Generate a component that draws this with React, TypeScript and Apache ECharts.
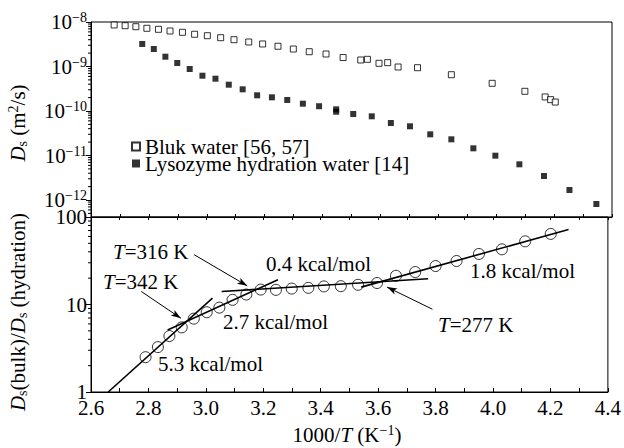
import React, { useEffect, useRef } from "react";
import * as echarts from "echarts";

// ---------- data ----------
const bulkX = [2.680, 2.718, 2.755, 2.793, 2.833, 2.873, 2.916, 2.958, 3.002, 3.048, 3.094, 3.145, 3.193, 3.246, 3.299, 3.354, 3.412, 3.471, 3.532, 3.555, 3.595, 3.625, 3.661, 3.728, 3.845, 3.986, 4.099, 4.169, 4.188, 4.204];
const bulkD = [8.57e-9, 8.26e-9, 7.84e-9, 7.22e-9, 6.85e-9, 6.28e-9, 5.87e-9, 5.30e-9, 4.92e-9, 4.44e-9, 4.00e-9, 3.55e-9, 3.21e-9, 2.85e-9, 2.47e-9, 2.15e-9, 1.91e-9, 1.59e-9, 1.40e-9, 1.45e-9, 1.18e-9, 1.22e-9, 9.75e-10, 9.40e-10, 6.54e-10, 4.19e-10, 2.77e-10, 2.07e-10, 1.80e-10, 1.59e-10];

const hydX = [2.777, 2.817, 2.857, 2.898, 2.941, 2.985, 3.030, 3.076, 3.124, 3.174, 3.225, 3.278, 3.332, 3.388, 3.447, 3.447, 3.506, 3.570, 3.636, 3.702, 3.772, 3.845, 3.921, 3.997, 4.080, 4.165, 4.253, 4.346];
const hydD = [3.21e-9, 2.47e-9, 1.66e-9, 1.20e-9, 8.79e-10, 6.21e-10, 5.32e-10, 3.90e-10, 3.07e-10, 2.25e-10, 2.03e-10, 1.77e-10, 1.46e-10, 1.28e-10, 1.09e-10, 9.64e-11, 8.57e-11, 7.60e-11, 5.37e-11, 4.53e-11, 2.99e-11, 2.31e-11, 1.45e-11, 9.9e-12, 6.34e-12, 3.46e-12, 1.68e-12, 8.13e-13];

const ratioX = [2.790, 2.833, 2.873, 2.916, 2.958, 3.003, 3.047, 3.093, 3.141, 3.191, 3.244, 3.299, 3.357, 3.411, 3.470, 3.530, 3.596, 3.662, 3.729, 3.800, 3.873, 3.951, 4.031, 4.112, 4.201];
const ratioV = [2.50, 3.26, 4.36, 5.48, 6.89, 8.16, 9.21, 11.3, 13.0, 14.8, 14.7, 15.2, 15.5, 16.1, 16.2, 16.8, 17.6, 21.3, 23.5, 27.5, 31.4, 37.8, 42.7, 52.7, 64.1];

const fitA = [[2.66, 1.0], [3.023, 11.8]];
const fitB = [[2.867, 5.1], [3.251, 19.2]];
const fitC = [[3.055, 14.1], [3.774, 19.7]];
const fitD = [[3.541, 15.8], [4.263, 71.9]];

const arrow316 = [[2.959, 37.1], [3.144, 16.35]];
const arrow342 = [[2.775, 14.1], [2.913, 6.96]];
const arrow277 = [[3.789, 8.83], [3.631, 15.8]];

const X_MIN = 2.6;
const X_MAX = 4.4;
const X_STEP = 0.1;
const TOP_MIN = 4.15e-13;
const TOP_MAX = 1e-8;
const BOT_MIN = 1;
const BOT_MAX = 100;
const topDecades = [-13, -12, -11, -10, -9];
const botDecades = [0, 1];
const minorMult = [2, 3, 4, 5, 6, 7, 8, 9];

const legendNames = ["Bluk water [56, 57]", "Lysozyme hydration water [14]"];

const F = "Liberation Serif";
const FS = 21;
const FS_SMALL = 14;

function minors(decades: number[], lo: number, hi: number) {
  const out: number[][] = [];
  decades.forEach((e) =>
    minorMult.forEach((m) => {
      const v = m * Math.pow(10, e);
      if (v > lo && v < hi) out.push([X_MIN, v]);
    })
  );
  return out;
}

const tickRender = (len: number) => (params: any, api: any) => {
  const p = api.coord([api.value(0), api.value(1)]);
  return {
    type: "line",
    shape: { x1: p[0] - len, y1: p[1], x2: p[0], y2: p[1] },
    style: { stroke: "#000", lineWidth: 1 },
  };
};

export default function App() {
  const ref = useRef<HTMLDivElement>(null);
  useEffect(() => {
    if (!ref.current) return;
    const chart = echarts.init(ref.current, undefined, { renderer: "svg" });

    const baseText = { fontFamily: F, color: "#000", fontSize: FS };
    const richSup = {
      b: { ...baseText, lineHeight: 23 },
      s: { fontFamily: F, color: "#000", fontSize: FS_SMALL, verticalAlign: "top", lineHeight: 14 },
    };

    const xCommon = {
      type: "value",
      min: X_MIN,
      max: X_MAX,
      interval: X_STEP,
      splitLine: { show: false },
      axisLine: { show: true, onZero: false, lineStyle: { color: "#000", width: 1 } },
    };

    const yLog = (grid: number, min: number, max: number, fmt: (v: number) => string) => ({
      type: "log",
      logBase: 10,
      gridIndex: grid,
      min,
      max,
      position: "left",
      splitLine: { show: false },
      axisLine: { show: true, lineStyle: { color: "#000", width: 1 } },
      axisTick: { show: true, inside: false, length: 5, lineStyle: { color: "#000" } },
      axisLabel: {
        margin: 4,
        ...baseText,
        formatter: fmt,
        rich: richSup,
      },
    });

    const isPow = (v: number) => Math.abs(Math.log10(v) - Math.round(Math.log10(v))) < 1e-6;

    const option: any = {
      animation: false,
      backgroundColor: "#fff",
      textStyle: { fontFamily: F },
      grid: [
        { left: 91, top: 22, width: 521, height: 195, show: true, borderColor: "#000", borderWidth: 1, backgroundColor: "transparent" },
        { left: 91, top: 217, width: 521, height: 175, show: true, borderColor: "#000", borderWidth: 1, backgroundColor: "transparent" },
      ],
      xAxis: [
        { ...xCommon, gridIndex: 0, position: "bottom", axisTick: { inside: true, length: 3, lineStyle: { color: "#000" } }, axisLabel: { show: false } },
        { ...xCommon, gridIndex: 1, position: "top", axisTick: { inside: true, length: 3, lineStyle: { color: "#000" } }, axisLabel: { show: false } },
        {
          ...xCommon,
          gridIndex: 1,
          position: "bottom",
          axisTick: { inside: true, length: 4, lineStyle: { color: "#000" } },
          axisLabel: {
            ...baseText,
            margin: 5,
            formatter: (v: number) => (Math.round(v * 10) % 2 === 0 ? v.toFixed(1) : ""),
          },
        },
      ],
      yAxis: [
        yLog(0, TOP_MIN, TOP_MAX, (v: number) =>
          isPow(v) ? `{b|10}{s|\u2212${Math.abs(Math.round(Math.log10(v)))}}` : ""
        ),
        yLog(1, BOT_MIN, BOT_MAX, (v: number) => (isPow(v) ? `{b|${Math.round(v)}}` : "")),
      ],
      legend: {
        data: legendNames,
        orient: "vertical",
        left: 126,
        top: 131,
        itemWidth: 8,
        itemHeight: 8,
        itemGap: -4,
        icon: "rect",
        textStyle: { fontFamily: F, color: "#000", fontSize: FS },
        selectedMode: false,
      },
      series: [
        {
          name: legendNames[0],
          type: "scatter",
          xAxisIndex: 0,
          yAxisIndex: 0,
          symbol: "rect",
          symbolSize: 6,
          itemStyle: { color: "#fff", borderColor: "#000", borderWidth: 1 },
          data: bulkX.map((x, i) => [x, bulkD[i]]),
          z: 5,
        },
        {
          name: legendNames[1],
          type: "scatter",
          xAxisIndex: 0,
          yAxisIndex: 0,
          symbol: "rect",
          symbolSize: 6,
          itemStyle: { color: "#000" },
          data: hydX.map((x, i) => [x, hydD[i]]),
          z: 5,
        },
        {
          type: "custom",
          xAxisIndex: 0,
          yAxisIndex: 0,
          renderItem: tickRender(3),
          data: minors(topDecades, TOP_MIN, TOP_MAX),
          silent: true,
        },
        {
          type: "custom",
          xAxisIndex: 2,
          yAxisIndex: 1,
          renderItem: tickRender(3),
          data: minors(botDecades, BOT_MIN, BOT_MAX),
          silent: true,
        },
        ...[fitA, fitB, fitC, fitD].map((d, i) => ({
          type: "line",
          xAxisIndex: 2,
          yAxisIndex: 1,
          data: d,
          showSymbol: false,
          symbol: "none",
          lineStyle: { color: "#000", width: 1.6 },
          silent: true,
          z: 3,
          ...(i === 0
            ? {
                markLine: {
                  silent: true,
                  symbol: ["none", "arrow"],
                  symbolSize: [5, 10],
                  label: { show: false },
                  lineStyle: { color: "#000", width: 1, type: "solid" },
                  data: [arrow316, arrow342, arrow277].map((a) => [{ coord: a[0] }, { coord: a[1] }]),
                },
              }
            : {}),
        })),
        {
          type: "scatter",
          xAxisIndex: 2,
          yAxisIndex: 1,
          symbol: "circle",
          symbolSize: 11,
          itemStyle: { color: "rgba(0,0,0,0)", borderColor: "#000", borderWidth: 1 },
          data: ratioX.map((x, i) => [x, ratioV[i]]),
          z: 5,
        },
      ],
      graphic: [
        {
          type: "text",
          x: 18,
          y: 123,
          rotation: Math.PI / 2,
          style: {
            text: "{i|D}{sub|s} (m{sup|2}/s)",
            ...baseText,
            fill: "#000",
            align: "center",
            verticalAlign: "middle",
            rich: {
              i: { ...baseText, fontStyle: "italic", lineHeight: 23 },
              sub: { fontFamily: F, fontSize: FS_SMALL, verticalAlign: "bottom", lineHeight: 14 },
              sup: { fontFamily: F, fontSize: FS_SMALL, verticalAlign: "top", lineHeight: 14 },
            },
          },
        },
        {
          type: "text",
          x: 18,
          y: 312,
          rotation: Math.PI / 2,
          style: {
            text: "{i|D}{sub|s}(bulk)/{i|D}{sub|s} (hydration)",
            ...baseText,
            fill: "#000",
            align: "center",
            verticalAlign: "middle",
            rich: {
              i: { ...baseText, fontStyle: "italic", lineHeight: 23 },
              sub: { fontFamily: F, fontSize: FS_SMALL, verticalAlign: "bottom", lineHeight: 14 },
            },
          },
        },
        {
          type: "text",
          x: 347,
          y: 435,
          style: {
            text: "1000/{i|T} (K{sup|\u22121})",
            ...baseText,
            fill: "#000",
            align: "center",
            verticalAlign: "middle",
            rich: {
              i: { ...baseText, fontStyle: "italic", lineHeight: 23 },
              sup: { fontFamily: F, fontSize: FS_SMALL, verticalAlign: "top", lineHeight: 14 },
            },
          },
        },
        ...[
          { t: "{i|T}=316 K", x: 113, y: 252 },
          { t: "{i|T}=342 K", x: 103, y: 282 },
          { t: "0.4 kcal/mol", x: 266, y: 264 },
          { t: "2.7 kcal/mol", x: 223, y: 322 },
          { t: "5.3 kcal/mol", x: 158, y: 364 },
          { t: "1.8 kcal/mol", x: 470, y: 271 },
          { t: "{i|T}=277 K", x: 438, y: 325 },
        ].map((a) => ({
          type: "text",
          x: a.x,
          y: a.y,
          z: 10,
          style: {
            text: a.t,
            ...baseText,
            fill: "#000",
            align: "left",
            verticalAlign: "middle",
            rich: { i: { ...baseText, fontStyle: "italic" } },
          },
        })),
      ],
    };

    chart.setOption(option);
    return () => chart.dispose();
  }, []);

  return (
    <div
      ref={ref}
      style={{ position: "absolute", left: 0, top: 0, width: 624, height: 448, background: "#fff" }}
    />
  );
}
